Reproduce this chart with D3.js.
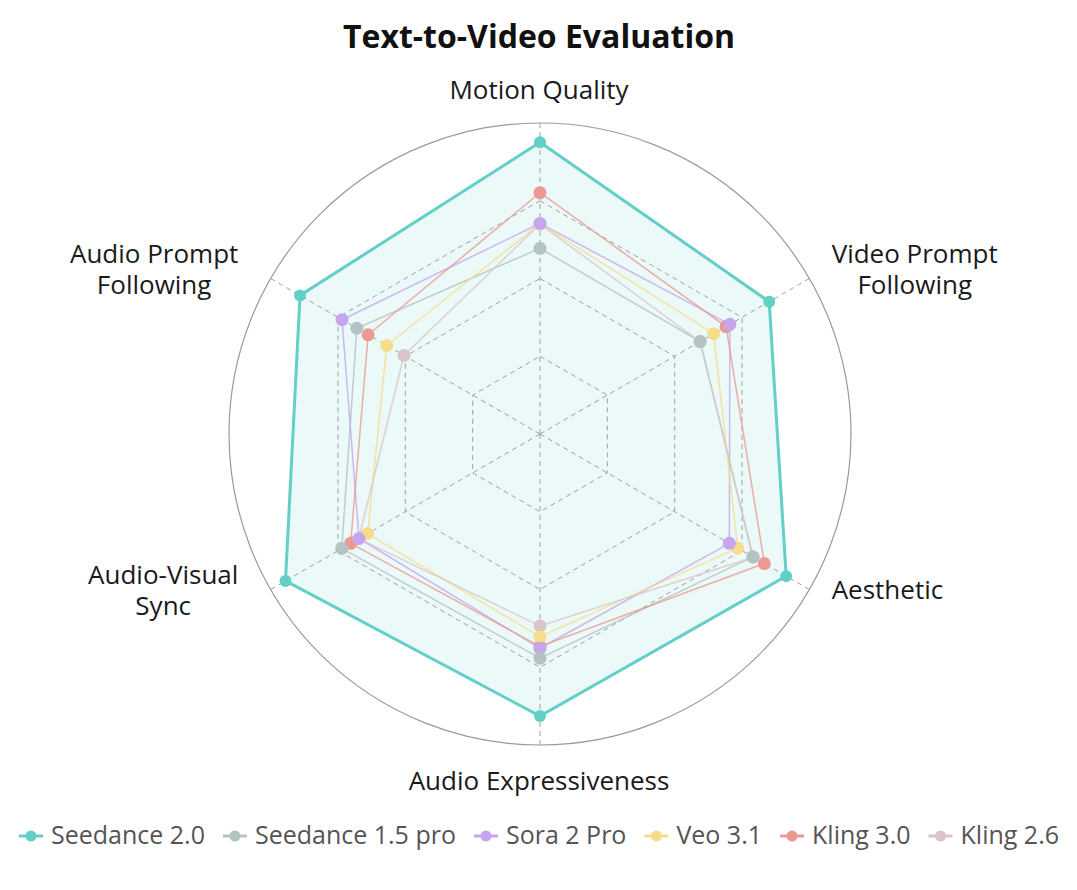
<!DOCTYPE html>
<html>
<head>
<meta charset="utf-8">
<script src="https://cdn.jsdelivr.net/npm/d3@7"></script>
<style>
  body { margin: 0; background: #fff; }
  text { font-family: "Open Sans", "Noto Sans", sans-serif; }
</style>
</head>
<body>
<svg id="chart" width="1077" height="890"></svg>
<script>
// -------------------- DATA -------------------- //
const axisNames = ["Motion Quality", "Video Prompt Following", "Aesthetic", "Audio Expressiveness", "Audio-Visual Sync", "Audio Prompt Following"];
const axisLabelLines = [["Motion Quality"], ["Video Prompt", "Following"], ["Aesthetic"], ["Audio Expressiveness"], ["Audio-Visual", "Sync"], ["Audio Prompt", "Following"]];
const modelNames = ["Seedance 2.0", "Seedance 1.5 pro", "Sora 2 Pro", "Veo 3.1", "Kling 3.0", "Kling 2.6"];

// scores per axis, same order as axisNames (0-100)
const seedance20 = [93.8, 85.1, 91.4, 90.7, 94.5, 89.1];
const seedance15 = [59.7, 59.5, 79.0, 72.1, 73.6, 68.0];
const sora2pro   = [67.7, 70.5, 70.3, 68.9, 67.2, 73.5];
const veo31      = [67.6, 64.5, 73.4, 65.2, 64.0, 56.9];
const kling30    = [77.6, 69.1, 83.3, 68.3, 70.3, 63.8];
const kling26    = [67.5, 59.4, 79.2, 61.7, 67.3, 50.5];

const modelColors = ["#63cfc6", "#b3c2c2", "#c6a6ee", "#f5dd8c", "#eb9a91", "#d9c5c8"];
const ringLevels = [25, 50, 75];

// -------------------- SETUP -------------------- //
let svg = d3.select("#chart");
let cx = 540, cy = 434, R = 311;

let series = [seedance20, seedance15, sora2pro, veo31, kling30, kling26].map((v, i) => ({
    name: modelNames[i], values: v, color: modelColors[i], main: i === 0
}));

let rScale = d3.scaleLinear().domain([0, 100]).range([0, R]);
let angle = i => i * 2 * Math.PI / axisNames.length;   // 0 = up, clockwise

let radar = d3.lineRadial()
    .angle((d, i) => angle(i))
    .radius(d => rScale(d))
    .curve(d3.curveLinearClosed);

// -------------------- TITLE -------------------- //
svg.append("text")
    .attr("x", 539).attr("y", 48)
    .attr("text-anchor", "middle")
    .attr("font-size", 32).attr("font-weight", 700)
    .attr("fill", "#111")
    .text("Text-to-Video Evaluation");

let g = svg.append("g").attr("transform", `translate(${cx},${cy})`);

// -------------------- GRID -------------------- //
g.append("circle").attr("r", R)
    .attr("fill", "none").attr("stroke", "#9a9a9a").attr("stroke-width", 1.2);

// Seedance 2.0 area goes under the grid
let mainSeries = series[0];
g.append("path")
    .attr("d", radar(mainSeries.values))
    .attr("fill", mainSeries.color).attr("fill-opacity", 0.13)
    .attr("stroke", "none");

ringLevels.forEach(lv => {
    g.append("path")
        .attr("d", radar(axisNames.map(() => lv)))
        .attr("fill", "none").attr("stroke", "#a0a0a0")
        .attr("stroke-width", 1).attr("stroke-dasharray", "5,4");
});

axisNames.forEach((a, i) => {
    let p = d3.pointRadial(angle(i), R);
    g.append("line")
        .attr("x1", 0).attr("y1", 0).attr("x2", p[0]).attr("y2", p[1])
        .attr("stroke", "#a0a0a0").attr("stroke-width", 1).attr("stroke-dasharray", "5,4");
});

// -------------------- SERIES -------------------- //
series.slice(1).forEach(s => {
    g.append("path")
        .attr("d", radar(s.values))
        .attr("fill", "none")
        .attr("stroke", s.color).attr("stroke-width", 1.5).attr("stroke-opacity", 0.8);
});
g.append("path")
    .attr("d", radar(mainSeries.values))
    .attr("fill", "none")
    .attr("stroke", mainSeries.color).attr("stroke-width", 3);

// points: others reversed so the overlaps look like the picture, main on top
series.slice(1).reverse().concat([mainSeries]).forEach(s => {
    g.selectAll(null)
        .data(s.values)
        .join("circle")
        .attr("cx", (d, i) => d3.pointRadial(angle(i), rScale(d))[0])
        .attr("cy", (d, i) => d3.pointRadial(angle(i), rScale(d))[1])
        .attr("r", s.main ? 6 : 6.5)
        .attr("fill", s.color);
});

// -------------------- AXIS LABELS -------------------- //
let labelGap = 20, sidePad = 10, lineH = 31;
axisLabelLines.forEach((lines, i) => {
    let a = angle(i);
    let p = d3.pointRadial(a, R + labelGap);
    let sx = Math.sin(a), sy = -Math.cos(a);
    let lab = svg.append("text")
        .attr("font-size", 26).attr("fill", "#1a1a1a")
        .attr("text-anchor", "middle");
    lines.forEach(t => lab.append("tspan").text(t));
    let widths = [];
    lab.selectAll("tspan").each(function () { widths.push(this.getComputedTextLength()); });
    let blockW = d3.max(widths);
    let blockH = lines.length * lineH;
    let midX, topY;
    if (Math.abs(sx) < 0.01) {
        midX = cx + p[0] - 1;
        topY = sy < 0 ? cy + p[1] - blockH + 4 : cy + p[1] + 2;
    } else {
        midX = sx > 0 ? cx + p[0] + sidePad - 5 + blockW / 2 : cx + p[0] - sidePad - 5 - blockW / 2;
        topY = cy + p[1] - blockH / 2 + (sy > 0 ? -8 : 2);
    }
    lab.selectAll("tspan")
        .attr("x", midX)
        .attr("y", (d, j) => topY + j * lineH + 23);
});

// -------------------- LEGEND -------------------- //
let legendY = 836;
let legend = svg.append("g");
let items = legend.selectAll("g").data(series).join("g");
items.append("line")
    .attr("x1", 0).attr("x2", 24).attr("y1", 0).attr("y2", 0)
    .attr("stroke", d => d.color).attr("stroke-width", 3);
items.append("circle")
    .attr("cx", 12).attr("cy", 0).attr("r", 5.5)
    .attr("fill", d => d.color);
items.append("text")
    .attr("x", 32).attr("y", 8)
    .attr("font-size", 25).attr("fill", "#555")
    .text(d => d.name);

let itemGap = 18;
let xPos = 0;
let offsets = [];
items.each(function () {
    offsets.push(xPos);
    xPos += 32 + d3.select(this).select("text").node().getComputedTextLength() + itemGap;
});
let totalW = xPos - itemGap;
let startX = 539 - totalW / 2;
items.attr("transform", (d, i) => `translate(${startX + offsets[i]},${legendY})`);
</script>
</body>
</html>
